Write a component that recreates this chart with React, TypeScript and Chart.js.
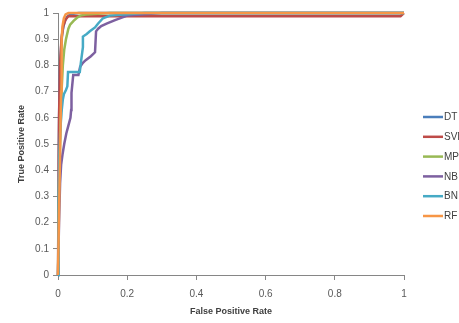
import React, { useEffect, useRef } from 'react';
import { Chart, registerables } from 'chart.js';

Chart.register(...registerables);

const seriesNames = ['DT', 'SVM', 'MP', 'NB', 'BN', 'RF'];
const seriesColors = ['#4A7EBB', '#BE4B48', '#98B954', '#7D60A0', '#46AAC5', '#F79646'];

const dtFpr = [0, 0.002, 0.004, 0.006, 0.009, 0.012, 0.016, 0.02, 0.026, 0.034, 0.045, 0.06, 1];
const dtTpr = [0, 0.45, 0.7, 0.8, 0.87, 0.92, 0.95, 0.97, 0.985, 0.993, 0.997, 1, 1];

const svmFpr = [0, 0.003, 0.006, 0.01, 0.015, 0.022, 0.03, 0.99, 1];
const svmTpr = [0, 0.6, 0.8, 0.9, 0.95, 0.975, 0.988, 0.988, 1];

const mpFpr = [0, 0.003, 0.007, 0.011, 0.014, 0.018, 0.023, 0.03, 0.035, 0.045, 0.055, 0.065, 0.08, 0.15, 1];
const mpTpr = [0, 0.35, 0.55, 0.72, 0.8, 0.86, 0.9, 0.94, 0.955, 0.97, 0.982, 0.99, 0.994, 1, 1];

const nbFpr = [0, 0.003, 0.006, 0.009, 0.013, 0.018, 0.024, 0.03, 0.036, 0.038, 0.039, 0.044, 0.059, 0.064, 0.072, 0.08, 0.095, 0.107, 0.11, 0.116, 0.125, 0.142, 0.165, 0.2, 0.3, 1];
const nbTpr = [0, 0.2, 0.35, 0.42, 0.46, 0.5, 0.54, 0.57, 0.6, 0.63, 0.695, 0.763, 0.763, 0.795, 0.81, 0.82, 0.835, 0.85, 0.93, 0.94, 0.95, 0.96, 0.973, 0.99, 1, 1];

const bnFpr = [0, 0.002, 0.004, 0.006, 0.01, 0.014, 0.017, 0.023, 0.027, 0.029, 0.063, 0.066, 0.072, 0.072, 0.083, 0.092, 0.107, 0.116, 0.13, 0.15, 0.25, 1];
const bnTpr = [0, 0.3, 0.45, 0.54, 0.62, 0.67, 0.69, 0.706, 0.72, 0.775, 0.775, 0.81, 0.87, 0.91, 0.92, 0.93, 0.945, 0.96, 0.98, 0.99, 1, 1];

const rfFpr = [0, 0.009, 0.01, 0.011, 0.013, 0.017, 0.022, 0.03, 1];
const rfTpr = [0, 0.7, 0.775, 0.9, 0.95, 0.98, 0.995, 1, 1];

const allFpr = [dtFpr, svmFpr, mpFpr, nbFpr, bnFpr, rfFpr];
const allTpr = [dtTpr, svmTpr, mpTpr, nbTpr, bnTpr, rfTpr];

const FONT = '"Liberation Sans", Arial, sans-serif';

const fmt = (v: any) => String(Number(Number(v).toFixed(2)));

const sideLegend = {
  id: 'sideLegend',
  afterDraw(chart: any) {
    const { ctx, chartArea } = chart;
    ctx.save();
    ctx.font = `10px ${FONT}`;
    ctx.textBaseline = 'middle';
    ctx.textAlign = 'left';
    const startY = chartArea.top + 104;
    chart.data.datasets.forEach((d: any, i: number) => {
      const y = startY + i * 19.8;
      const x0 = chartArea.right + 19;
      ctx.strokeStyle = d.borderColor;
      ctx.lineWidth = 2.5;
      ctx.beginPath();
      ctx.moveTo(x0, y);
      ctx.lineTo(x0 + 20, y);
      ctx.stroke();
      ctx.fillStyle = '#404040';
      ctx.fillText(d.label, x0 + 21, y + 0.5);
    });
    ctx.restore();
  },
};

export default function App() {
  const ref = useRef<HTMLCanvasElement>(null);
  useEffect(() => {
    if (!ref.current) return;
    const datasets = seriesNames.map((name, i) => ({
      label: name,
      data: allFpr[i].map((x, j) => ({ x, y: allTpr[i][j] })),
      borderColor: seriesColors[i],
      backgroundColor: seriesColors[i],
      borderWidth: 2.5,
      pointRadius: 0,
      showLine: true,
      tension: 0,
      clip: false,
      order: seriesNames.length - i,
    }));
    const chart = new Chart(ref.current, {
      type: 'scatter',
      data: { datasets },
      plugins: [sideLegend],
      options: {
        animation: false,
        responsive: true,
        maintainAspectRatio: false,
        layout: { padding: { left: 12, right: 55, top: 13, bottom: 2 } },
        plugins: { legend: { display: false }, tooltip: { enabled: false } },
        scales: {
          x: {
            type: 'linear',
            min: 0,
            max: 1,
            afterFit: (s: any) => { s.height = 46; },
            ticks: { stepSize: 0.2, callback: fmt, color: '#595959', font: { family: FONT, size: 10 }, padding: 8, maxRotation: 0 },
            grid: { drawOnChartArea: false, drawTicks: true, tickLength: 5, color: '#868686' },
            border: { display: true, color: '#868686' },
            title: { display: true, text: 'False Positive Rate', color: '#404040', font: { family: FONT, size: 9, weight: 'bold' } },
          },
          y: {
            type: 'linear',
            min: 0,
            max: 1,
            afterFit: (s: any) => { s.width = 46; },
            ticks: { stepSize: 0.1, callback: fmt, color: '#595959', font: { family: FONT, size: 10 }, padding: 4 },
            grid: { drawOnChartArea: false, drawTicks: true, tickLength: 5, color: '#868686' },
            border: { display: true, color: '#868686' },
            title: { display: true, text: 'True Positive Rate', color: '#404040', font: { family: FONT, size: 9, weight: 'bold' } },
          },
        },
      },
    });
    return () => chart.destroy();
  }, []);
  return (
    <div style={{ position: 'fixed', left: 0, top: 0, width: 459, height: 323, background: '#fff' }}>
      <canvas ref={ref} />
    </div>
  );
}
